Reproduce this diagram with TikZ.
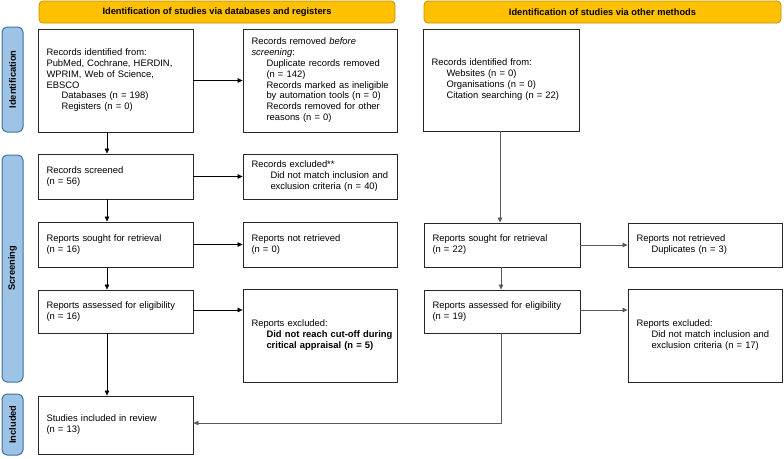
\documentclass[tikz,border=0pt]{standalone}
\usepackage{fontspec}
\setmainfont{Liberation Sans}
\usetikzlibrary{arrows.meta}
\definecolor{hdrfill}{HTML}{FFC000}
\definecolor{hdrdraw}{HTML}{BF9000}
\definecolor{sidefill}{HTML}{9DC3E6}
\definecolor{sidedraw}{HTML}{41719C}
\newcommand\indt{\hspace*{15pt}}
\newcommand\indtb{\hspace*{19pt}}
\newcommand\boxlines[1]{\begin{tabular}{@{}l@{}}#1\end{tabular}}
\tikzset{
  box/.style={draw=black!85, line width=0.9pt, fill=white, inner xsep=8.5pt, inner ysep=0pt,
    align=left, font=\fontsize{9.4}{10.8}\selectfont, anchor=center},
  hdr/.style={draw=hdrdraw, fill=hdrfill, line width=0.8pt, rounded corners=4pt,
    font=\fontsize{9.3}{10.8}\selectfont\bfseries, inner sep=0pt, anchor=center},
  side/.style={draw=sidedraw, fill=sidefill, line width=1pt, rounded corners=5pt,
    inner sep=0pt, anchor=center},
  sidelab/.style={font=\fontsize{9.3}{10.8}\selectfont\bfseries, rotate=90, anchor=center},
  arr/.style={draw=black, line width=0.6pt, -{Triangle[length=5pt,width=4.5pt]}},
  garr/.style={draw=black!65, line width=0.8pt, -{Triangle[length=5pt,width=4.5pt]}}
}
\begin{document}
\begin{tikzpicture}[x=1pt,y=-1pt]
\useasboundingbox (0,0) rectangle (784,458);
% headers
\node[hdr, minimum width=356pt, minimum height=22pt] (h1) at (217,12) {Identification of studies via databases and registers};
\node[hdr, minimum width=357pt, minimum height=22pt] (h2) at (602.5,12) {Identification of studies via other methods};
% side bars
\node[side, minimum width=21pt, minimum height=105pt] (s1) at (12.5,79.5) {};
\node[sidelab] at (s1.center) {Identification};
\node[side, minimum width=21pt, minimum height=227pt] (s2) at (12.5,268.5) {};
\node[sidelab] at (s2.center) {Screening};
\node[side, minimum width=21pt, minimum height=61pt] (s3) at (12.5,424.5) {};
\node[sidelab] at (s3.center) {Included};
% boxes
\node[box, text width=138pt, minimum height=103pt] (A) at (115.5,80.5) {\boxlines{Records identified from:\\PubMed, Cochrane, HERDIN,\\WPRIM, Web of Science,\\EBSCO\\\indt Databases (n = 198)\\\indt Registers (n = 0)}};
\node[box, text width=137pt, minimum height=103pt] (B) at (320,80.5) {\boxlines{Records removed \textit{before}\\\textit{screening}:\\\indt Duplicate records removed\\\indt (n = 142)\\\indt Records marked as ineligible\\\indt by automation tools (n = 0)\\\indt Records removed for other\\\indt reasons (n = 0)}};
\node[box, text width=139pt, minimum height=102pt] (C) at (501,80) {\boxlines{Records identified from:\\\indt Websites (n = 0)\\\indt Organisations (n = 0)\\\indt Citation searching (n = 22)}};
\node[box, text width=138pt, minimum height=45pt] (scr) at (115.5,176.5) {\boxlines{Records screened\\(n = 56)}};
\node[box, text width=137pt, minimum height=45pt] (exc) at (320,176.5) {\boxlines{Records excluded**\\\indtb Did not match inclusion and\\\indtb exclusion criteria (n = 40)}};
\node[box, text width=138pt, minimum height=45pt] (soL) at (115.5,244.5) {\boxlines{Reports sought for retrieval\\(n = 16)}};
\node[box, text width=137pt, minimum height=45pt] (nrL) at (320,244.5) {\boxlines{Reports not retrieved\\(n = 0)}};
\node[box, text width=139pt, minimum height=44pt] (soR) at (502,245) {\boxlines{Reports sought for retrieval\\(n = 22)}};
\node[box, text width=137pt, minimum height=44pt] (nrR) at (705,245) {\boxlines{Reports not retrieved\\\indt Duplicates (n = 3)}};
\node[box, text width=138pt, minimum height=43pt] (asL) at (115.5,311.5) {\boxlines{Reports assessed for eligibility\\(n = 16)}};
\node[box, text width=137pt, minimum height=93pt] (exL) at (320,335.5) {\boxlines{Reports excluded:\\\indt\textbf{Did not reach cut-off during}\\\indt\textbf{critical appraisal (n = 5)}}};
\node[box, text width=139pt, minimum height=43pt] (asR) at (502,311.5) {\boxlines{Reports assessed for eligibility\\(n = 19)}};
\node[box, text width=137pt, minimum height=93pt] (exR) at (705,335.5) {\boxlines{Reports excluded:\\\indt Did not match inclusion and\\\indt exclusion criteria (n = 17)}};
\node[box, text width=138pt, minimum height=58pt] (inc) at (115.5,425) {\boxlines{Studies included in review\\(n = 13)}};
% connectors
\draw[arr] (A.east) -- (A.east -| B.west);
\draw[arr] ([xshift=-8.5pt]A.south) -- ([xshift=-8.5pt]scr.north);
\draw[arr] (scr.east) -- (scr.east -| exc.west);
\draw[arr] ([xshift=-8.5pt]scr.south) -- ([xshift=-8.5pt]soL.north);
\draw[arr] (soL.east) -- (soL.east -| nrL.west);
\draw[arr] ([xshift=-8.5pt]soL.south) -- ([xshift=-8.5pt]asL.north);
\draw[arr] ([yshift=1.5pt]asL.east) -- ([yshift=1.5pt]asL.east -| exL.west);
\draw[arr] ([xshift=-8.5pt]asL.south) -- ([xshift=-8.5pt]inc.north);
\draw[garr] ([xshift=-1pt]C.south) -- ([xshift=-1pt]C.south |- soR.north);
\draw[garr] (soR.east) -- (soR.east -| nrR.west);
\draw[garr] ([xshift=-1pt]soR.south) -- ([xshift=-1pt]asR.north);
\draw[garr] ([yshift=1.5pt]asR.east) -- ([yshift=1.5pt]asR.east -| exR.west);
\draw[garr] ([xshift=-1pt]asR.south) |- ([yshift=2pt]inc.east);
\end{tikzpicture}
\end{document}
